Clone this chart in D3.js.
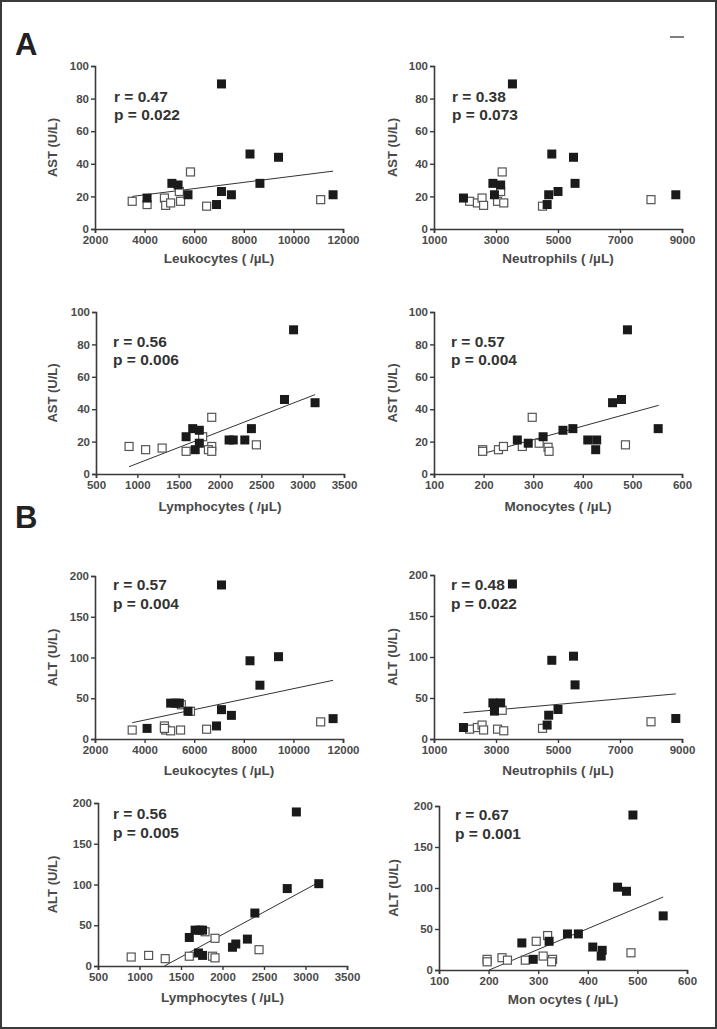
<!DOCTYPE html>
<html><head><meta charset="utf-8">
<script src="https://cdn.jsdelivr.net/npm/d3@7"></script>
<style>
html,body{margin:0;padding:0;background:#fff;}
svg{display:block;}
text{font-family:"Liberation Sans",Arial,sans-serif;}
</style></head>
<body><svg id="c" width="717" height="1029"></svg>
<script>
// ---------- data ----------
const aLeukoFilled = [[7100,89],[8250,46],[9400,44],[8650,28],[5100,28],[5350,27],[5750,21],[7100,23],[7500,21],[6900,15],[4100,19],[11600,21]];
const aLeukoOpen   = [[3500,17],[4100,15],[4800,19],[4850,14.5],[5050,16],[5450,17],[5400,23],[5850,35],[6500,14],[11100,18]];
const aLeukoFit    = [[3500,20],[11600,35.5]];

const aNeutFilled = [[3530,89],[4800,46],[5500,44],[5550,28],[2900,28],[3150,27],[2950,21],[4700,21],[5000,23],[4650,15],[1950,19],[8800,21]];
const aNeutOpen   = [[2150,17],[2400,16],[2550,19],[2600,14.5],[3050,17],[3250,16],[3150,23],[3200,35],[4500,14],[8000,18]];
const aNeutFit    = [];

const aLymphFilled = [[2890,89],[2780,46],[3150,44],[2380,28],[1670,28],[1750,27],[1590,23],[2110,21],[2160,21],[2300,21],[1700,15],[1750,19]];
const aLymphOpen   = [[900,17],[1100,15],[1300,16],[1590,14],[1790,23],[1900,35],[1900,17],[1860,15],[1900,14],[2440,18]];
const aLymphFit    = [[900,4.5],[3150,49]];

const aMonoFilled = [[490,89],[460,44],[478,46],[552,28],[360,27],[380,28],[320,23],[268,21],[290,19],[410,21],[428,21],[426,15]];
const aMonoOpen   = [[198,15],[198,14],[230,15],[240,17],[278,17],[298,35],[312,19],[330,16.5],[332,14],[486,18]];
const aMonoFit    = [[195,12.3],[553,42.4]];

const bLeukoFilled = [[7100,189],[8250,96],[9400,101],[8650,66],[5050,44],[5250,44],[5400,44],[5750,34],[7100,36],[7500,29],[6900,16],[4100,13],[11600,25]];
const bLeukoOpen   = [[3500,11],[4800,16],[4850,11],[5050,10],[5450,11],[5480,42],[5850,34],[6500,12],[11100,21],[4800,13]];
const bLeukoFit    = [[3500,20],[11600,72]];

const bNeutFilled = [[3530,189],[4800,96],[5500,101],[5550,66],[2900,44],[3150,44],[2950,34],[4700,29],[5000,36],[4650,17],[1950,14],[8800,25]];
const bNeutOpen   = [[2150,12],[2400,14],[2550,17],[2600,11],[3050,12],[3250,10],[3200,35],[4500,13],[8000,21]];
const bNeutFit    = [[1950,32],[8800,55]];

const bLymphFilled = [[2890,189],[2780,95],[3160,101],[2390,65],[1600,35],[1670,44],[1720,44],[1760,44],[1710,16],[1760,13],[2120,23],[2160,27],[2300,33]];
const bLymphOpen   = [[900,11],[1110,13],[1310,9],[1600,12],[1790,42],[1910,34],[1880,12],[1910,10],[2440,20]];
const bLymphFit    = [[1300,0],[3160,102.7]];

const bMonoFilled = [[491,189],[460,101],[478,96],[552,66],[359,44],[381,44],[322,35],[267,33],[290,13],[410,28],[429,24],[427,17]];
const bMonoOpen   = [[197,13],[197,10],[227,15],[238,12],[274,12],[296,35],[319,42],[310,17],[329,13],[327,10],[487,21]];
const bMonoFit    = [[201,0],[552,89]];

const leukoTicks = [2000,4000,6000,8000,10000,12000];
const neutTicks  = [1000,3000,5000,7000,9000];
const lymphTicks = [500,1000,1500,2000,2500,3000,3500];
const monoTicks  = [100,200,300,400,500,600];
const astTicks   = [0,20,40,60,80,100];
const altTicks   = [0,50,100,150,200];

const stats = [["r = 0.47","p = 0.022"],["r = 0.38","p = 0.073"],["r = 0.56","p = 0.006"],["r = 0.57","p = 0.004"],
               ["r = 0.57","p = 0.004"],["r = 0.48","p = 0.022"],["r = 0.56","p = 0.005"],["r = 0.67","p = 0.001"]];

// ---------- layout ----------
const panels = [
 {x0:95, x1:343, y0:229, y1:66,  xd:[2000,12000], xt:leukoTicks, yd:[0,100], yt:astTicks, xl:"Leukocytes ( /\u00b5L)", yl:"AST (U/L)", f:aLeukoFilled, o:aLeukoOpen, fit:aLeukoFit, s:stats[0], tx:114, ty:[102,120], ylx:52, xly:263},
 {x0:434,x1:682, y0:229, y1:66,  xd:[1000,9000], xt:neutTicks, yd:[0,100], yt:astTicks, xl:"Neutrophils ( /\u00b5L)", yl:"AST (U/L)", f:aNeutFilled, o:aNeutOpen, fit:aNeutFit, s:stats[1], tx:452, ty:[102,120], ylx:392, xly:263},
 {x0:96, x1:344, y0:474, y1:312, xd:[500,3500], xt:lymphTicks, yd:[0,100], yt:astTicks, xl:"Lymphocytes ( /\u00b5L)", yl:"AST (U/L)", f:aLymphFilled, o:aLymphOpen, fit:aLymphFit, s:stats[2], tx:113, ty:[347,365], ylx:52, xly:511},
 {x0:434,x1:682, y0:474, y1:312, xd:[100,600], xt:monoTicks, yd:[0,100], yt:astTicks, xl:"Monocytes ( /\u00b5L)", yl:"AST (U/L)", f:aMonoFilled, o:aMonoOpen, fit:aMonoFit, s:stats[3], tx:451, ty:[347,365], ylx:392, xly:511},
 {x0:95, x1:343, y0:739, y1:576, xd:[2000,12000], xt:leukoTicks, yd:[0,200], yt:altTicks, xl:"Leukocytes ( /\u00b5L)", yl:"ALT (U/L)", f:bLeukoFilled, o:bLeukoOpen, fit:bLeukoFit, s:stats[4], tx:113, ty:[590,609], ylx:52, xly:775},
 {x0:434,x1:682, y0:739, y1:575, xd:[1000,9000], xt:neutTicks, yd:[0,200], yt:altTicks, xl:"Neutrophils ( /\u00b5L)", yl:"ALT (U/L)", f:bNeutFilled, o:bNeutOpen, fit:bNeutFit, s:stats[5], tx:451, ty:[590,609], ylx:392, xly:775},
 {x0:98, x1:347, y0:966, y1:803, xd:[500,3500], xt:lymphTicks, yd:[0,200], yt:altTicks, xl:"Lymphocytes ( /\u00b5L)", yl:"ALT (U/L)", f:bLymphFilled, o:bLymphOpen, fit:bLymphFit, s:stats[6], tx:113, ty:[819,838], ylx:52, xly:1002},
 {x0:439,x1:687, y0:970, y1:806, xd:[100,600], xt:monoTicks, yd:[0,200], yt:altTicks, xl:"Mon ocytes ( /\u00b5L)", yl:"ALT (U/L)", f:bMonoFilled, o:bMonoOpen, fit:bMonoFit, s:stats[7], tx:455, ty:[820,839], ylx:393, xly:1004}
];

const svg = d3.select("#c");
svg.append("rect").attr("x",1).attr("y",1).attr("width",715).attr("height",1027)
   .attr("fill","#fff").attr("stroke","#3a3a3a").attr("stroke-width",2);

svg.append("text").attr("x",15).attr("y",55).attr("font-size",31).attr("font-weight","bold").attr("fill","#222").text("A");
svg.append("text").attr("x",15).attr("y",528).attr("font-size",31).attr("font-weight","bold").attr("fill","#222").text("B");
svg.append("line").attr("x1",670).attr("x2",684).attr("y1",37).attr("y2",37).attr("stroke","#555").attr("stroke-width",1.5);

const axColor = "#3a3a3a", tkColor = "#4a4a4a";
const M = 9; // marker size

panels.forEach(p => {
  const x = d3.scaleLinear().domain(p.xd).range([p.x0, p.x1]);
  const y = d3.scaleLinear().domain(p.yd).range([p.y0, p.y1]);
  const g = svg.append("g");

  const xa = g.append("g").attr("transform", `translate(0,${p.y0})`)
    .call(d3.axisBottom(x).tickValues(p.xt).tickFormat(d3.format("d")).tickSizeOuter(0).tickSize(4).tickPadding(3));
  const ya = g.append("g").attr("transform", `translate(${p.x0},0)`)
    .call(d3.axisLeft(y).tickValues(p.yt).tickFormat(d3.format("d")).tickSizeOuter(0).tickSize(4).tickPadding(2));
  [xa, ya].forEach(a => {
    a.select(".domain").attr("stroke", axColor).attr("stroke-width", 1.6);
    a.selectAll(".tick line").attr("stroke", axColor).attr("stroke-width", 1.4);
    a.selectAll(".tick text").attr("fill", tkColor).attr("font-size", 11.5).attr("font-weight", "bold")
      .attr("font-family", '"Liberation Sans",Arial,sans-serif');
  });

  g.append("text").attr("x", (p.x0 + p.x1) / 2).attr("y", p.xly).attr("text-anchor", "middle")
    .attr("font-size", 13.5).attr("font-weight", "bold").attr("fill", tkColor).text(p.xl);
  g.append("text").attr("transform", `translate(${p.ylx},${(p.y0 + p.y1) / 2}) rotate(-90)`)
    .attr("text-anchor", "middle").attr("dy", "0.35em")
    .attr("font-size", 13).attr("font-weight", "bold").attr("fill", tkColor).text(p.yl);

  g.selectAll("text.st").data(p.s).enter().append("text")
    .attr("x", p.tx).attr("y", (d, i) => p.ty[i])
    .attr("font-size", 15.5).attr("font-weight", "bold").attr("fill", "#333").text(d => d);

  if (p.fit.length) {
    g.append("line").attr("x1", x(p.fit[0][0])).attr("y1", y(p.fit[0][1]))
      .attr("x2", x(p.fit[1][0])).attr("y2", y(p.fit[1][1]))
      .attr("stroke", "#333").attr("stroke-width", 1);
  }

  g.selectAll("rect.o").data(p.o).enter().append("rect")
    .attr("x", d => x(d[0]) - M / 2 + 0.5).attr("y", d => y(d[1]) - M / 2 + 0.5)
    .attr("width", M - 1).attr("height", M - 1)
    .attr("fill", "#fff").attr("stroke", "#555").attr("stroke-width", 1.2);
  g.selectAll("rect.f").data(p.f).enter().append("rect")
    .attr("x", d => x(d[0]) - M / 2).attr("y", d => y(d[1]) - M / 2)
    .attr("width", M).attr("height", M).attr("fill", "#1a1a1a");
});
</script></body></html>
